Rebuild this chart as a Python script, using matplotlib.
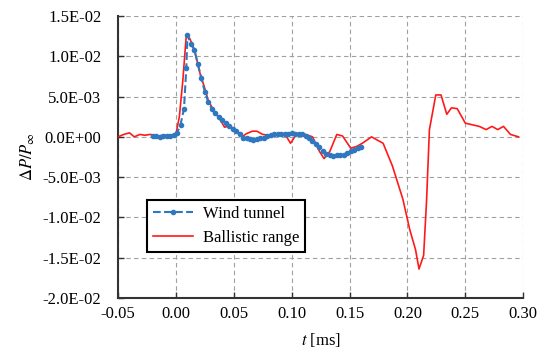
import numpy as np
import matplotlib
matplotlib.use('Agg')
import matplotlib.pyplot as plt
from matplotlib.ticker import FuncFormatter, MultipleLocator

plt.rcParams['font.family'] = ['Liberation Serif', 'DejaVu Serif']
plt.rcParams['mathtext.fontset'] = 'stix'

# Wind tunnel measurement
t_wind = [-0.020, -0.017, -0.014, -0.011, -0.008, -0.005, -0.002, 0.001, 0.004,
          0.007, 0.009, 0.010, 0.013, 0.016, 0.019, 0.022, 0.025, 0.028, 0.031,
          0.034, 0.037, 0.040, 0.043, 0.046, 0.049, 0.052, 0.055, 0.058, 0.061,
          0.064, 0.067, 0.070, 0.073, 0.076, 0.079, 0.082, 0.085, 0.088, 0.091,
          0.094, 0.097, 0.100, 0.103, 0.106, 0.109, 0.112, 0.115, 0.118, 0.121,
          0.124, 0.127, 0.130, 0.133, 0.136, 0.139, 0.142, 0.145, 0.148, 0.151,
          0.154, 0.157, 0.160]
p_wind = [0.0001, 0.0001, 0.0000, 0.0001, 0.0001, 0.0001, 0.0002, 0.0005, 0.0015,
          0.0035, 0.0085, 0.0126, 0.0115, 0.0108, 0.0090, 0.0073, 0.0056, 0.0043, 0.0035,
          0.0029, 0.0025, 0.0021, 0.0017, 0.0014, 0.0010, 0.0007, 0.0003, -0.0001, -0.0002,
          -0.0003, -0.0004, -0.0003, -0.0002, -0.0001, 0.0001, 0.0002, 0.0003, 0.0003, 0.0004,
          0.0004, 0.0004, 0.0005, 0.0004, 0.0004, 0.0003, 0.0001, -0.0002, -0.0005, -0.0009,
          -0.0013, -0.0017, -0.0021, -0.0023, -0.0024, -0.0023, -0.0022, -0.0022, -0.0020, -0.0018,
          -0.0016, -0.0014, -0.0012]

# Ballistic range measurement
t_ball = [-0.050, -0.045, -0.040, -0.036, -0.031, -0.027, -0.022, -0.016, -0.010,
          -0.003, 0.000, 0.003, 0.006, 0.009, 0.012, 0.016, 0.021, 0.025, 0.028,
          0.033, 0.038, 0.042, 0.045, 0.048, 0.052, 0.057, 0.061, 0.066, 0.070,
          0.075, 0.081, 0.087, 0.094, 0.099, 0.104, 0.110, 0.118, 0.124, 0.128,
          0.133, 0.139, 0.144, 0.151, 0.156, 0.161, 0.165, 0.169, 0.174, 0.179,
          0.187, 0.196, 0.202, 0.207, 0.210, 0.214, 0.2165, 0.219, 0.2245, 0.229,
          0.234, 0.238, 0.243, 0.250, 0.256, 0.262, 0.268, 0.273, 0.278, 0.283,
          0.289, 0.296]
p_ball = [0.0000, 0.0003, 0.0005, 0.0000, 0.0003, 0.0002, 0.0003, 0.0001, 0.0002,
          0.0002, 0.0003, 0.0025, 0.0070, 0.0126, 0.0122, 0.0108, 0.0078, 0.0060, 0.0045,
          0.0032, 0.0022, 0.0012, 0.0013, 0.0012, 0.0008, 0.0000, 0.0004, 0.0007, 0.0007,
          0.0003, 0.0002, 0.0003, 0.0004, -0.0008, 0.0003, 0.0004, 0.0000, -0.0018, -0.0027,
          -0.0018, 0.0003, 0.0001, -0.0014, -0.0012, -0.0008, -0.0004, 0.0000, -0.0004, -0.0008,
          -0.0036, -0.0077, -0.0115, -0.0140, -0.0164, -0.0147, -0.0080, 0.0009, 0.0052, 0.0052,
          0.0028, 0.0036, 0.0035, 0.0017, 0.0015, 0.0013, 0.0009, 0.0013, 0.0009, 0.0013,
          0.0003, 0.0000]

fig = plt.figure(figsize=(5.45, 3.63), dpi=100)
ax = fig.add_axes([0.2165, 0.179, 0.7435, 0.777])

ax.plot(t_ball, p_ball, color='#ff1a1a', lw=1.2, label='Ballistic range', zorder=3)
ax.plot(t_wind, p_wind, color='#2f78c0', lw=1.5, ls='--', marker='o', ms=3,
        label='Wind tunnel', zorder=4)

ax.set_xlim(-0.05, 0.30)
ax.set_ylim(-0.02, 0.015)
ax.xaxis.set_major_locator(MultipleLocator(0.05))
ax.yaxis.set_major_locator(MultipleLocator(0.005))
ax.xaxis.set_major_formatter(FuncFormatter(lambda v, p: f'{v:.2f}'))
ax.yaxis.set_major_formatter(FuncFormatter(lambda v, p: f'{v:.1E}'))
ax.grid(True, color='#a0a0a0', ls=(0, (4, 3)), lw=0.8)

for s in ['top', 'right']:
    ax.spines[s].set_visible(False)
for s in ['left', 'bottom']:
    ax.spines[s].set_linewidth(1.5)
    ax.spines[s].set_color('#333333')
ax.tick_params(direction='in', length=4, width=1, labelsize=12, color='#333333')
ax.tick_params(axis='y', pad=12)
ax.tick_params(axis='x', pad=6)

ax.set_xlabel(r'$t$ [ms]', fontsize=12, labelpad=6)
ax.set_ylabel(r'$\mathit{\Delta}P/P_{\infty}$', fontsize=12, labelpad=4)

handles, labels = ax.get_legend_handles_labels()
leg = ax.legend(handles[::-1], labels[::-1], loc='lower left',
                bbox_to_anchor=(0.072, 0.163), borderaxespad=0, fontsize=12,
                fancybox=False, framealpha=1, edgecolor='black', borderpad=0.35,
                handlelength=2.4, handletextpad=0.6)
leg.get_frame().set_linewidth(1.5)

plt.savefig('out.png', dpi=100)
